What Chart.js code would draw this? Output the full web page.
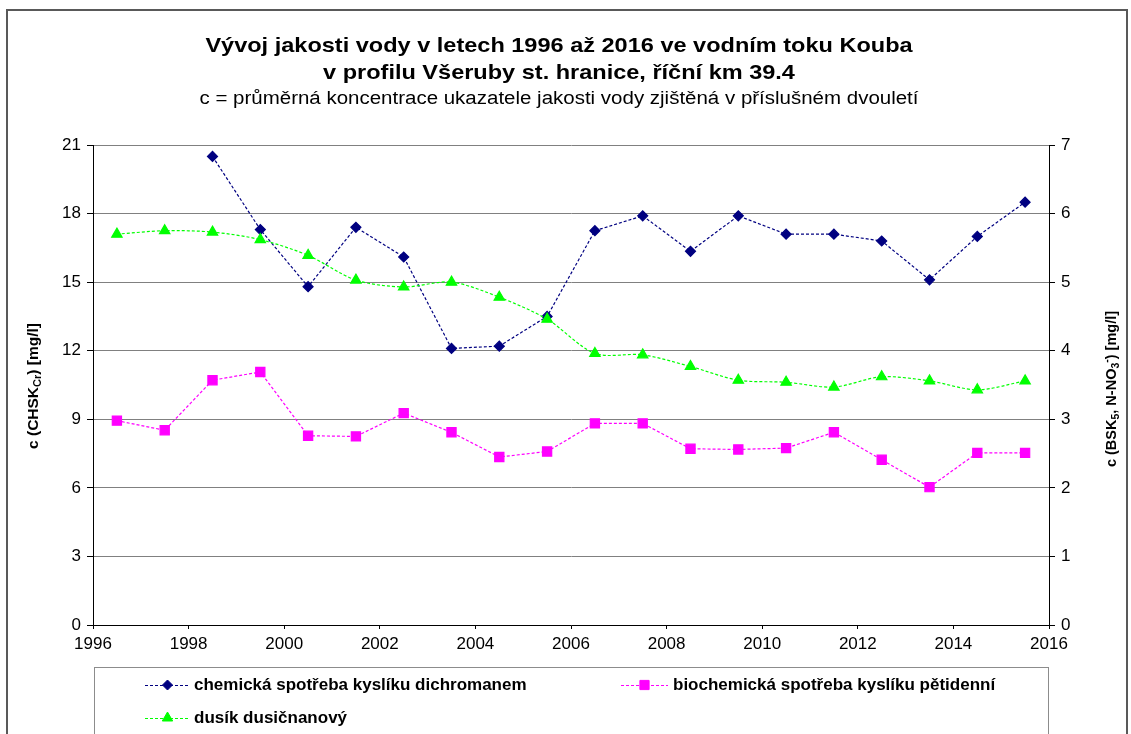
<!DOCTYPE html>
<html>
<head>
<meta charset="utf-8">
<script src="https://cdn.jsdelivr.net/npm/chart.js@4"></script>
<style>
html,body{margin:0;padding:0;background:#fff;}
canvas{display:block;}
</style>
</head>
<body>
<canvas id="c" width="1131" height="734"></canvas>
<script>
const years = [1996.5,1997.5,1998.5,1999.5,2000.5,2001.5,2002.5,2003.5,2004.5,2005.5,2006.5,2007.5,2008.5,2009.5,2010.5,2011.5,2012.5,2013.5,2014.5,2015.5];
const chsk = [null,null,20.5,17.3,14.8,17.4,16.1,12.1,12.2,13.5,17.25,17.9,16.35,17.9,17.1,17.1,16.8,15.1,17.0,18.5];
const bsk = [2.98,2.84,3.57,3.69,2.76,2.75,3.09,2.81,2.45,2.53,2.94,2.94,2.57,2.56,2.58,2.81,2.41,2.01,2.51,2.51];
const no3 = [5.70,5.75,5.73,5.62,5.39,5.03,4.93,5.00,4.78,4.46,3.96,3.94,3.77,3.57,3.54,3.47,3.62,3.56,3.43,3.56];
const xTicks = [1996,1998,2000,2002,2004,2006,2008,2010,2012,2014,2016];
const leftTicks = [0,3,6,9,12,15,18,21];
const rightTicks = [0,1,2,3,4,5,6,7];
const titleLines = ['Vývoj jakosti vody v letech 1996 až 2016 ve vodním toku Kouba','v profilu Všeruby st. hranice, říční km 39.4'];
const subtitle = 'c = průměrná koncentrace ukazatele jakosti vody zjištěná v příslušném dvouletí';
const seriesNames = ['chemická spotřeba kyslíku dichromanem','biochemická spotřeba kyslíku pětidenní','dusík dusičnanový'];

const FONT = '"Liberation Sans", Arial, sans-serif';
const toXY = arr => years.map((x,i)=>({x:x,y:arr[i]}));

const colors = ['#000080','#FF00FF','#00FF00'];
const styles = ['rectRot','rect','triangle'];
const radii = [5,6.5,6];

function stretchText(ctx, text, cx, cy, font, sx){
  ctx.save();
  ctx.font = font;
  ctx.translate(cx, cy);
  ctx.scale(sx, 1);
  ctx.textAlign = 'center';
  ctx.textBaseline = 'middle';
  ctx.fillText(text, 0, 0);
  ctx.restore();
}

const decor = {
  id:'decor',
  beforeDraw(chart){
    const ctx = chart.ctx;
    ctx.save();
    ctx.fillStyle = '#fff';
    ctx.fillRect(0,0,chart.width,chart.height);
    ctx.strokeStyle = '#595959';
    ctx.lineWidth = 2;
    ctx.strokeRect(7,10,1120,740);
    ctx.fillStyle = '#000';
    stretchText(ctx, titleLines[0], 559, 46, 'bold 21px ' + FONT, 1.12);
    stretchText(ctx, titleLines[1], 559, 73, 'bold 21px ' + FONT, 1.12);
    stretchText(ctx, subtitle, 559, 99, '18px ' + FONT, 1.138);
    ctx.restore();
  },
  afterDraw(chart){
    const ctx = chart.ctx;
    ctx.save();
    ctx.strokeStyle = '#8c8c8c';
    ctx.lineWidth = 1;
    ctx.strokeRect(94.5,667.5,954,100);
    const items = [
      {x1:145, x2:190, tx:194, y:685},
      {x1:621, x2:668, tx:673, y:685},
      {x1:145, x2:190, tx:194, y:718}
    ];
    items.forEach((it,i)=>{
      ctx.strokeStyle = colors[i];
      ctx.lineWidth = 1;
      ctx.setLineDash([3,2]);
      ctx.beginPath();
      ctx.moveTo(it.x1, it.y+0.5);
      ctx.lineTo(it.x2, it.y+0.5);
      ctx.stroke();
      ctx.setLineDash([]);
      ctx.fillStyle = colors[i];
      ctx.strokeStyle = colors[i];
      Chart.helpers.drawPoint(ctx, {pointStyle:styles[i], radius:radii[i], borderWidth:1, rotation:0}, (it.x1+it.x2)/2, it.y);
      ctx.fillStyle = '#000';
      ctx.font = 'bold 17px ' + FONT;
      ctx.textAlign = 'left';
      ctx.textBaseline = 'middle';
      ctx.fillText(seriesNames[i], it.tx, it.y);
    });
    function richText(parts, cx, cy, big, small){
      let total = 0;
      parts.forEach(p=>{ ctx.font = 'bold ' + (p.s? small: big) + 'px ' + FONT; p.w = ctx.measureText(p.t).width; total += p.w; });
      let x = -total/2;
      ctx.save();
      ctx.translate(cx, cy);
      ctx.rotate(-Math.PI/2);
      ctx.textAlign = 'left';
      ctx.textBaseline = 'middle';
      ctx.fillStyle = '#000';
      parts.forEach(p=>{
        ctx.font = 'bold ' + (p.s? small: big) + 'px ' + FONT;
        const dy = p.s==='sub' ? 4 : (p.s==='sup' ? -5 : 0);
        ctx.fillText(p.t, x, dy);
        x += p.w;
      });
      ctx.restore();
    }
    richText([{t:'c (CHSK'},{t:'Cr',s:'sub'},{t:') [mg/l]'}], 34, 386, 15.5, 11);
    richText([{t:'c (BSK'},{t:'5',s:'sub'},{t:', N-NO'},{t:'3',s:'sub'},{t:'-',s:'sup'},{t:') [mg/l]'}], 1112, 389, 14.5, 10.5);
    ctx.restore();
  }
};

new Chart(document.getElementById('c'), {
  type:'line',
  data:{
    datasets:[
      {label:seriesNames[0], data:toXY(chsk), yAxisID:'y', borderColor:colors[0], backgroundColor:colors[0],
       borderWidth:1.2, borderDash:[3,2], pointStyle:styles[0], pointRadius:radii[0], tension:0, spanGaps:false, order:3},
      {label:seriesNames[1], data:toXY(bsk), yAxisID:'y2', borderColor:colors[1], backgroundColor:colors[1],
       borderWidth:1.2, borderDash:[3,2], pointStyle:styles[1], pointRadius:radii[1], tension:0, order:2},
      {label:seriesNames[2], data:toXY(no3), yAxisID:'y2', borderColor:colors[2], backgroundColor:colors[2],
       borderWidth:1.2, borderDash:[3,2], pointStyle:styles[2], pointRadius:radii[2], tension:0.3, order:1}
    ]
  },
  options:{
    responsive:false,
    animation:false,
    devicePixelRatio:1,
    layout:{padding:{top:145,left:0,right:0,bottom:0}},
    plugins:{legend:{display:false}, tooltip:{enabled:false}, title:{display:false}},
    scales:{
      x:{type:'linear', min:1996, max:2016,
         afterBuildTicks:s=>{s.ticks = xTicks.map(v=>({value:v}));},
         afterFit:s=>{s.height = 109;},
         grid:{drawOnChartArea:false, tickLength:4, color:'#000', tickColor:'#000'},
         border:{color:'#000', width:1},
         ticks:{color:'#000', font:{family:FONT, size:17}, padding:5, maxRotation:0, autoSkip:false, callback:v=>String(v)}},
      y:{position:'left', min:0, max:21,
         afterBuildTicks:s=>{s.ticks = leftTicks.map(v=>({value:v}));},
         afterFit:s=>{s.width = 93;},
         grid:{color:'#808080', tickColor:'#000', tickLength:6, lineWidth:1},
         border:{color:'#000', width:1},
         ticks:{color:'#000', font:{family:FONT, size:17}, padding:6, callback:v=>String(v)}},
      y2:{position:'right', min:0, max:7,
         afterBuildTicks:s=>{s.ticks = rightTicks.map(v=>({value:v}));},
         afterFit:s=>{s.width = 82;},
         grid:{drawOnChartArea:false, tickColor:'#000', tickLength:6},
         border:{color:'#000', width:1},
         ticks:{color:'#000', font:{family:FONT, size:17}, padding:6, callback:v=>String(v)}}
    }
  },
  plugins:[decor]
});
</script>
</body>
</html>
